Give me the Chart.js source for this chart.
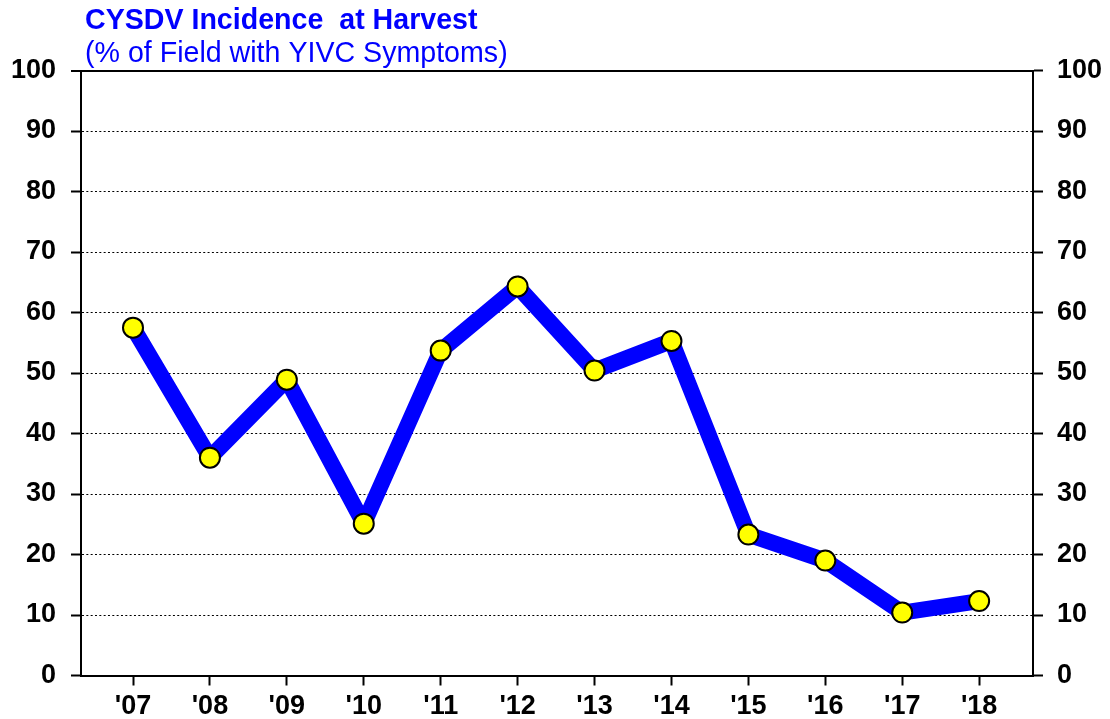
<!DOCTYPE html>
<html>
<head>
<meta charset="utf-8">
<script src="https://cdn.jsdelivr.net/npm/chart.js@4.4.1/dist/chart.umd.min.js"></script>
<style>
  html, body { margin: 0; padding: 0; background: #ffffff; }
  #wrap { position: relative; width: 1110px; height: 719px; }
</style>
</head>
<body>
<div id="wrap"><canvas id="c" width="1110" height="719"></canvas></div>
<script>
const titleText = "CYSDV Incidence  at Harvest";
const subtitleText = "(% of Field with YIVC Symptoms)";
const years = ["'07", "'08", "'09", "'10", "'11", "'12", "'13", "'14", "'15", "'16", "'17", "'18"];
const incidence = [57.5, 36.0, 48.9, 25.1, 53.7, 64.3, 50.4, 55.3, 23.3, 19.0, 10.4, 12.3];
const yTicks = [0, 10, 20, 30, 40, 50, 60, 70, 80, 90, 100];

const FONT = "'Liberation Sans', Arial, Helvetica, sans-serif";

const titlePlugin = {
  id: 'titles',
  beforeDatasetsDraw(chart) { chart.ctx.save(); chart.ctx.miterLimit = 1.6; },
  afterDatasetsDraw(chart) { chart.ctx.restore(); },
  afterDraw(chart) {
    const ctx = chart.ctx;
    ctx.save();
    ctx.fillStyle = '#0000FF';
    ctx.textAlign = 'left';
    ctx.textBaseline = 'alphabetic';
    ctx.font = "bold 28.6px " + FONT;
    ctx.fillText(titleText, 85, 29);
    ctx.font = "28.6px " + FONT;
    ctx.fillText(subtitleText, 85, 62);
    ctx.restore();
  }
};

const tickFont = { family: FONT, size: 27, weight: 'bold' };
const points = incidence.map((v, i) => ({ x: i, y: v }));

new Chart(document.getElementById('c'), {
  type: 'line',
  data: {
    datasets: [{
      data: points,
      borderColor: '#0000FF',
      borderWidth: 16,
      borderJoinStyle: 'miter',
      borderCapStyle: 'butt',
      tension: 0,
      pointRadius: 10,
      pointHoverRadius: 10,
      pointBackgroundColor: '#FFFF00',
      pointBorderColor: '#000000',
      pointBorderWidth: 2,
      fill: false
    }, {
      data: points,
      showLine: false,
      pointRadius: 0.8,
      pointBorderWidth: 0,
      pointBackgroundColor: '#000000'
    }]
  },
  options: {
    responsive: false,
    animation: false,
    events: [],
    layout: { padding: { top: 70.5, left: 0, right: 0, bottom: 0 } },
    plugins: { legend: { display: false }, tooltip: { enabled: false }, title: { display: false } },
    scales: {
      x: {
        type: 'linear',
        position: 'bottom',
        min: -0.676,
        max: 11.70,
        afterBuildTicks: s => { s.ticks = years.map((_, i) => ({ value: i })); },
        afterFit: s => { s.height = 43.5; },
        ticks: {
          callback: v => years[v],
          font: tickFont,
          color: '#000000',
          padding: 5,
          maxRotation: 0,
          autoSkip: false
        },
        grid: { drawOnChartArea: false, drawTicks: true, tickLength: 10, color: '#000000', tickWidth: 2 },
        border: { display: true, color: '#000000', width: 2 }
      },
      y: {
        position: 'left',
        min: 0,
        max: 100,
        afterBuildTicks: s => { s.ticks = yTicks.map(v => ({ value: v })); },
        afterFit: s => { s.width = 81; },
        ticks: { font: tickFont, color: '#000000', padding: 15 },
        grid: {
          drawOnChartArea: true,
          drawTicks: true,
          tickLength: 10,
          color: '#000000',
          lineWidth: c => (c.tick && c.tick.value === 100) ? 2 : 1,
          tickWidth: 2,
          tickColor: '#000000'
        },
        border: { display: true, color: '#000000', width: 2, dash: c => (c.tick && c.tick.value === 100) ? [] : [2, 2.33] }
      },
      y2: {
        position: 'right',
        min: 0,
        max: 100,
        afterBuildTicks: s => { s.ticks = yTicks.map(v => ({ value: v })); },
        afterFit: s => { s.width = 77; },
        ticks: { font: tickFont, color: '#000000', padding: 14 },
        grid: { drawOnChartArea: false, drawTicks: true, tickLength: 10, color: '#000000', tickWidth: 2 },
        border: { display: true, color: '#000000', width: 2 }
      }
    }
  },
  plugins: [titlePlugin]
});
</script>
</body>
</html>
